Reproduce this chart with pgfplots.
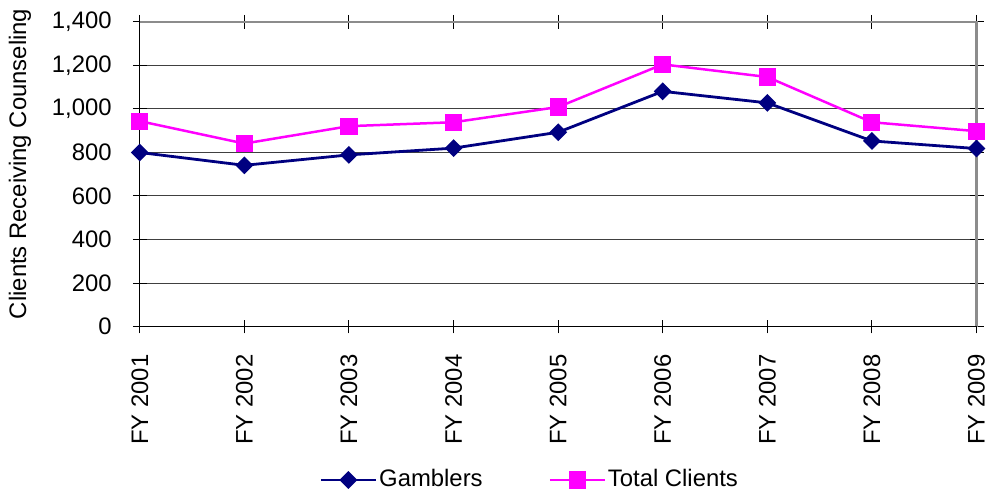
\documentclass[border=0pt]{standalone}
\usepackage{pgfplots}
\pgfplotsset{compat=1.18}
\usepackage{fontspec}
\setmainfont{Liberation Sans}
\definecolor{navyc}{HTML}{000080}
\definecolor{pinkc}{HTML}{FF00FF}
\begin{document}
\begin{tikzpicture}
\fontsize{23.9bp}{28bp}\selectfont
\begin{axis}[
  name=ax,
  scale only axis,
  width=838bp, height=305bp,
  xmin=0, xmax=8, ymin=0, ymax=1400,
  xtick={0,...,8},
  xticklabels={FY 2001,FY 2002,FY 2003,FY 2004,FY 2005,FY 2006,FY 2007,FY 2008,FY 2009},
  x tick label style={rotate=90, anchor=east, yshift=0bp},
  xticklabel shift=13bp,
  ytick={0,200,...,1400},
  yticklabel shift=13bp,
  /pgf/number format/assume math mode=true,
  /pgf/number format/1000 sep={,},
  tick label style={font=\fontsize{23.9bp}{28bp}\selectfont},
  tick align=center,
  major tick length=14bp,
  tick style={black, line width=1bp},
  ymajorgrids,
  grid style={black!75, line width=1bp},
  axis line style={draw=none},
  clip=false,
  ylabel={Clients Receiving Counseling},
  every axis y label/.style={at={(axis description cs:0,0.534)}, xshift=-120bp, rotate=90, anchor=center, font=\fontsize{23.9bp}{28bp}\selectfont},
  legend style={draw=none, at={(axis description cs:0.466,-0.504)}, anchor=center, font=\fontsize{23.9bp}{28bp}\selectfont, legend columns=2, /tikz/every even column/.append style={column sep=64bp}, inner sep=0pt},
  legend image code/.code={\draw[mark repeat=2,mark phase=2,#1] plot coordinates {(0bp,0bp) (27.5bp,0bp) (55bp,0bp)};},
]
\draw[gray!90, line width=2.5bp] (rel axis cs:0,1) -- (rel axis cs:1,1) -- (rel axis cs:1,0);
\draw[black, line width=1.2bp] (rel axis cs:0,1) -- (rel axis cs:0,0) -- (rel axis cs:1,0);
\addplot[navyc, line width=2.8bp, mark=square*, mark size=4.9bp, mark options={rotate=45, solid, fill=navyc}] coordinates {
(0,800) (1,741) (2,789) (3,820) (4,893) (5,1081) (6,1028) (7,853) (8,818)};
\addlegendentry{Gamblers}
\addplot[pinkc, line width=2.5bp, mark=square*, mark size=7.3bp, mark options={solid, fill=pinkc}] coordinates {
(0,944) (1,841) (2,921) (3,939) (4,1009) (5,1205) (6,1147) (7,939) (8,898)};
\addlegendentry{Total Clients}
\end{axis}
\pgfresetboundingbox
\path[use as bounding box] ([shift={(-140bp,-166bp)}]ax.south west) rectangle ([shift={(12.5bp,22bp)}]ax.north east);
\end{tikzpicture}
\end{document}
